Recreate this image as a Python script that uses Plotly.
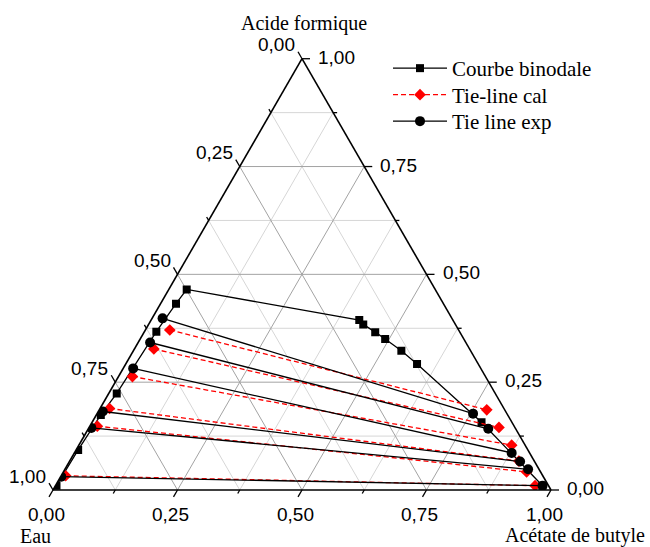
import math
import plotly.graph_objects as go

W, H_FIG = 650, 547

# ---------------- data (fractions) ----------------
binodal_acide   = [0.010, 0.093, 0.174, 0.224, 0.367, 0.432, 0.465, 0.394, 0.384, 0.366, 0.350, 0.323, 0.292, 0.157, 0.010]
binodal_eau     = [0.988, 0.903, 0.817, 0.760, 0.609, 0.537, 0.499, 0.188, 0.185, 0.170, 0.158, 0.139, 0.123, 0.061, 0.012]
binodal_acetate = [0.002, 0.004, 0.009, 0.016, 0.024, 0.031, 0.036, 0.418, 0.431, 0.464, 0.492, 0.538, 0.585, 0.782, 0.978]

# tie lines: consecutive pairs (raffinat, extrait)
tie_exp_acide   = [0.398, 0.177, 0.342, 0.142, 0.282, 0.086, 0.182, 0.066, 0.144, 0.048, 0.031, 0.010]
tie_exp_eau     = [0.581, 0.068, 0.634, 0.055, 0.698, 0.036, 0.809, 0.029, 0.851, 0.022, 0.968, 0.012]
tie_exp_acetate = [0.021, 0.755, 0.024, 0.803, 0.020, 0.878, 0.009, 0.905, 0.005, 0.930, 0.001, 0.978]

tie_cal_acide   = [0.371, 0.186, 0.327, 0.145, 0.263, 0.104, 0.189, 0.067, 0.148, 0.042, 0.033, 0.010]
tie_cal_eau     = [0.580, 0.036, 0.634, 0.032, 0.709, 0.027, 0.792, 0.031, 0.837, 0.028, 0.958, 0.027]
tie_cal_acetate = [0.049, 0.778, 0.039, 0.823, 0.028, 0.869, 0.019, 0.902, 0.015, 0.930, 0.009, 0.963]

tick_values = [0.0, 0.25, 0.5, 0.75, 1.0]
tick_labels = ["0,00", "0,25", "0,50", "0,75", "1,00"]
minor_values = [0.125, 0.375, 0.625, 0.875]

axis_titles = {"a": "Acide formique", "b": "Eau", "c": "Acétate de butyle"}
series_names = ["Courbe binodale", "Tie-line cal", "Tie line exp"]

# ---------------- geometry of the triangle (pixels) ----------------
S = 498.0                      # side length
TH = S * math.sqrt(3) / 2      # triangle height
X0, Y0 = 53.0, 490.0           # bottom-left vertex


def P(a, c):
    """pixel position of ternary point (a = top, c = bottom-right)"""
    return X0 + S * (c + a / 2.0), Y0 - TH * a


def paper(x, y):
    return x / W, 1 - y / H_FIG


def pairs(vals):
    out = []
    for i in range(0, len(vals), 2):
        out += [vals[i], vals[i + 1], None]
    return out


def grid_lines(vals):
    a, b, c = [], [], []
    for v in vals:
        a += [v, v, None];         b += [1 - v, 0, None];     c += [0, 1 - v, None]
        a += [1 - v, 0, None];     b += [v, v, None];         c += [0, 1 - v, None]
        a += [1 - v, 0, None];     b += [0, 1 - v, None];     c += [v, v, None]
    return a, b, c


fig = go.Figure()

for vals, col in [(minor_values, "#d6d6d6"), (tick_values[1:-1], "#a3a3a3")]:
    ga, gb, gc = grid_lines(vals)
    fig.add_trace(go.Scatterternary(a=ga, b=gb, c=gc, mode="lines",
                                    line=dict(color=col, width=1),
                                    showlegend=False, hoverinfo="skip"))

fig.add_trace(go.Scatterternary(
    a=binodal_acide, b=binodal_eau, c=binodal_acetate,
    mode="lines+markers", name=series_names[0], legend="legend",
    line=dict(color="black", width=1.3),
    marker=dict(symbol="square", size=8, color="black")))

fig.add_trace(go.Scatterternary(
    a=pairs(tie_cal_acide), b=pairs(tie_cal_eau), c=pairs(tie_cal_acetate),
    mode="lines+markers", name=series_names[1], legend="legend2",
    line=dict(color="#ff0000", width=1.3, dash="5px,3px"),
    marker=dict(symbol="diamond", size=9, color="#ff0000")))

fig.add_trace(go.Scatterternary(
    a=pairs(tie_exp_acide), b=pairs(tie_exp_eau), c=pairs(tie_exp_acetate),
    mode="lines+markers", name=series_names[2], legend="legend3",
    line=dict(color="black", width=1.3),
    marker=dict(symbol="circle", size=10, color="black")))

axis_common = dict(showgrid=False, showticklabels=False, ticks="", linecolor="black",
                   linewidth=1.6, min=0, title=dict(text=""))


def legend_at(top_px):
    return dict(x=388 / W, y=1 - top_px / H_FIG, xanchor="left", yanchor="top",
                font=dict(family="Liberation Serif", size=21, color="black"),
                bgcolor="rgba(0,0,0,0)", itemwidth=54)


fig.update_layout(
    width=W, height=H_FIG,
    margin=dict(l=0, r=0, t=0, b=0),
    paper_bgcolor="white",
    ternary=dict(
        sum=1,
        domain=dict(x=[X0 / W, (X0 + S) / W], y=[1 - Y0 / H_FIG, 1 - (Y0 - TH) / H_FIG]),
        bgcolor="white",
        aaxis=axis_common, baxis=axis_common, caxis=axis_common,
    ),
    legend=legend_at(48),
    legend2=legend_at(74.5),
    legend3=legend_at(101),
    showlegend=True,
)

# ---------------- tick marks and tick labels ----------------
shapes = []
annotations = []
all_ticks = sorted(tick_values + minor_values)
TICK_FONT = dict(family="Liberation Sans", size=19, color="black")
for v in all_ticks:
    major = v in tick_values
    ln = 8 if major else 4
    edges = [
        (P(1 - v, 0), (-0.5, -math.sqrt(3) / 2)),   # left edge: Eau
        (P(v, 1 - v), (1.0, 0.0)),                    # right edge: Acide formique
        (P(0, v), (-0.5, math.sqrt(3) / 2)),          # bottom edge: Acétate de butyle
    ]
    for (x, y), (dx, dy) in edges:
        x0p, y0p = paper(x, y)
        x1p, y1p = paper(x + dx * ln, y + dy * ln)
        shapes.append(dict(type="line", xref="paper", yref="paper",
                           x0=x0p, y0=y0p, x1=x1p, y1=y1p,
                           line=dict(color="black", width=1.3)))

for v, txt in zip(tick_values, tick_labels):
    x, y = P(1 - v, 0)
    xp, yp = paper(x - 5, y - 14)
    annotations.append(dict(x=xp, y=yp, xref="paper", yref="paper", text=txt, showarrow=False,
                            xanchor="right", yanchor="middle", font=TICK_FONT))
    x, y = P(v, 1 - v)
    xp, yp = paper(x + 14, y - 1.5)
    annotations.append(dict(x=xp, y=yp, xref="paper", yref="paper", text=txt, showarrow=False,
                            xanchor="left", yanchor="middle", font=TICK_FONT))
    x, y = P(0, v)
    xp, yp = paper(x - 7, y + 24)
    annotations.append(dict(x=xp, y=yp, xref="paper", yref="paper", text=txt, showarrow=False,
                            xanchor="center", yanchor="middle", font=TICK_FONT))

TITLE_FONT = dict(family="Liberation Serif", size=20, color="black")
for key, (tx, ty) in {"a": (303.5, 23), "b": (35.5, 535.5), "c": (575, 535)}.items():
    xp, yp = paper(tx, ty)
    annotations.append(dict(x=xp, y=yp, xref="paper", yref="paper", text=axis_titles[key],
                            showarrow=False, xanchor="center", yanchor="middle", font=TITLE_FONT))

fig.update_layout(shapes=shapes, annotations=annotations)

fig.write_html("out.html", config={"displayModeBar": False},
               post_script="document.body.style.margin='0';document.body.style.padding='0';")
